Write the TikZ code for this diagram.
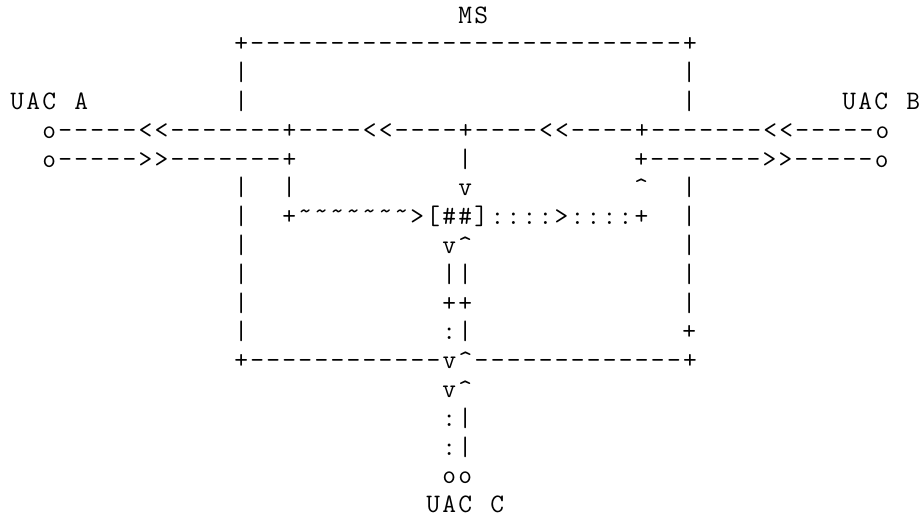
\documentclass[tikz,border=0pt]{standalone}
\usepackage{fontspec}
\usepackage{tikz}
\newfontfamily\asciifont{Latin Modern Mono}[LetterSpace=8.6]
\newcommand{\tl}{\textasciitilde}
\newcommand{\ct}{\textasciicircum}

\begin{document}
\begin{tikzpicture}[x=8pt,y=-14.4pt,
	ascii/.style={anchor=base west,inner sep=0pt,xshift=1pt,font=\asciifont\fontsize{13.33pt}{14.4pt}\selectfont}]
	\useasboundingbox (-0.5,-0.799) rectangle (57,17.5);
	% media server box
	\node[ascii] (ms)      at (28,0)  {MS};
	\node[ascii] (boxtop)  at (14,1)  {+---------------------------+};
	\foreach \r in {2,3,6,7,8,9,10,11} {
		\node[ascii] (boxl\r) at (14,\r) {|};
	}
	\foreach \r in {2,3,6,7,8,9,10} {
		\node[ascii] (boxr\r) at (42,\r) {|};
	}
	\node[ascii] (boxr11)  at (42,11) {+};
	\node[ascii] (boxbot)  at (14,12) {+------------v\ct-------------+};

	% UAC A and UAC B
	\node[ascii] (uaca)    at (0,3)   {UAC};
	\node[ascii] (uacan)   at (4,3)   {A};
	\node[ascii] (uacb)    at (52,3)  {UAC};
	\node[ascii] (uacbn)   at (56,3)  {B};
	\node[ascii] (legin)   at (2,4)   {o-----<<-------+----<<----+----<<----+-------<<-----o};
	\node[ascii] (legouta) at (2,5)   {o----->>-------+};
	\node[ascii] (legmid)  at (28,5)  {|};
	\node[ascii] (legoutb) at (39,5)  {+------->>-----o};

	% mixer
	\node[ascii] (upa)     at (17,6)  {|};
	\node[ascii] (downmid) at (28,6)  {v};
	\node[ascii] (upb)     at (39,6)  {\ct};
	\node[ascii] (mixin)   at (17,7)  {+};
	\node[ascii,yshift=2.5pt] (mixtl) at (18,7) {\tl\tl\tl\tl\tl\tl\tl};
	\node[ascii] (mix)     at (25,7)  {>[\#\#]::::>::::+};
	\node[ascii] (mixc1)   at (27,8)  {v\ct};
	\node[ascii] (mixc2)   at (27,9)  {||};
	\node[ascii] (mixc3)   at (27,10) {++};
	\node[ascii] (mixc4)   at (27,11) {:|};

	% UAC C
	\node[ascii] (legc1)   at (27,13) {v\ct};
	\node[ascii] (legc2)   at (27,14) {:|};
	\node[ascii] (legc3)   at (27,15) {:|};
	\node[ascii] (legc4)   at (27,16) {oo};
	\node[ascii] (uacc)    at (26,17) {UAC};
	\node[ascii] (uaccn)   at (30,17) {C};
\end{tikzpicture}
\end{document}
